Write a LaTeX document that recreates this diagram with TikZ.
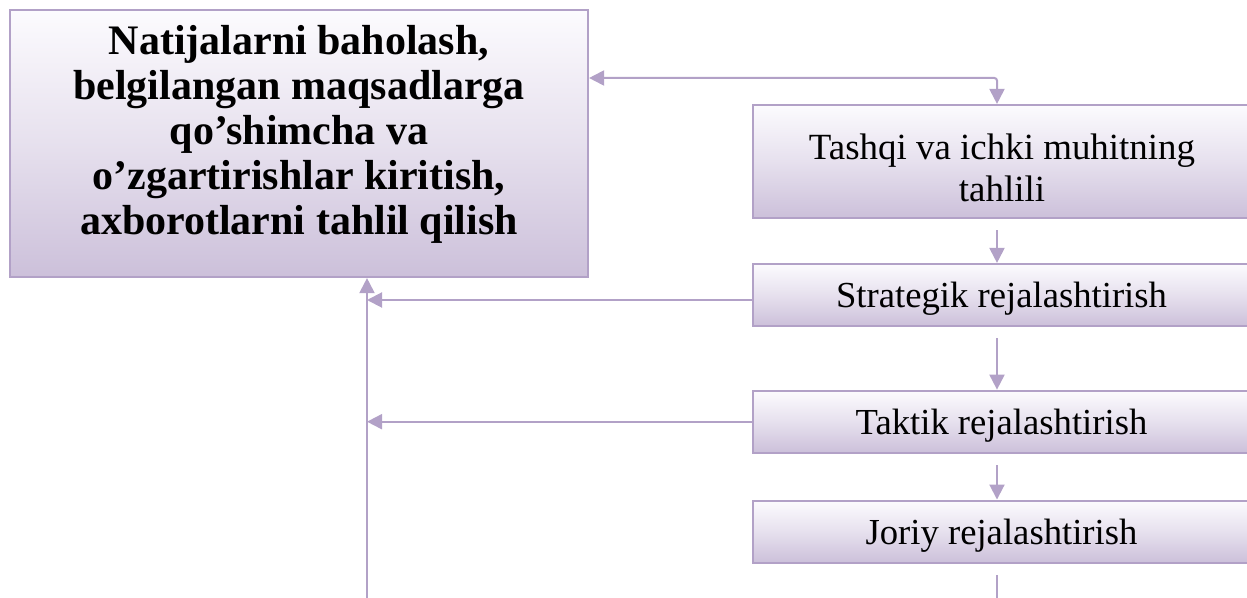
\documentclass[tikz,border=0pt]{standalone}
\usepackage{fontspec}
\setmainfont{Liberation Serif}
\usetikzlibrary{arrows.meta,calc}
\definecolor{lavline}{RGB}{178,161,199}
\definecolor{lavbot}{RGB}{204,192,218}
\definecolor{lavtop}{RGB}{252,251,254}
\tikzset{
  box/.style={rectangle, draw=lavline, line width=1.6pt, top color=lavtop, bottom color=lavbot, middle color=lavtop!55!lavbot, inner sep=0pt, align=center},
  bigbox/.style={box, minimum width=433.5pt, minimum height=200.25pt},
  bigtext/.style={inner sep=0pt, align=center, font=\fontsize{31.5}{33.75}\selectfont\bfseries},
  rbox/.style={box, minimum width=372.75pt, font=\fontsize{27.5}{31.5}\selectfont},
  rline/.style={rbox, minimum height=46.5pt, text height=20pt, text depth=0.5pt},
  rtext/.style={inner sep=0pt, align=center, font=\fontsize{27.7}{31.5}\selectfont},
  conn/.style={draw=lavline, line width=1.5pt},
  tip/.style={-{Triangle[length=11.25pt,width=11.25pt]}},
}
\begin{document}
\begin{tikzpicture}[x=0.75pt,y=-0.75pt]
\useasboundingbox (0,0) rectangle (1247,598);
\clip (0,0) rectangle (1247,598);
\node[bigbox] (big) at (299,143.5) {};
\node[bigtext] (bigt) at (299,134) {Natijalarni baholash,\\belgilangan maqsadlarga\\qo’shimcha va\\o’zgartirishlar kiritish,\\axborotlarni tahlil qilish};
\node[rbox, minimum height=84.75pt] (tash) at (1001.5,161.5) {};
\node[rtext] (tasht) at (1002,168) {Tashqi va ichki muhitning\\tahlili};
\node[rline] (strat) at (1001.5,295) {Strategik rejalashtirish};
\node[rline] (takt) at (1001.5,421.7) {Taktik rejalashtirish};
\node[rline] (jor) at (1001.5,531.6) {Joriy rejalashtirish};
\coordinate (ax) at (997,0);
\coordinate (vx) at (367,0);
\coordinate (corner) at (997,78);
\coordinate (vb) at (367,598);
\coordinate (jb) at (997,598);
% top double connector
\draw[conn, {Triangle[length=11.25pt,width=11.25pt]}-{Triangle[length=11.25pt,width=11.25pt]}, rounded corners=2pt] (big.east |- corner) -- (corner) -- (tash.north -| corner);
% vertical chain
\draw[conn, tip, shorten <=8.5pt] (tash.south -| ax) -- (strat.north -| ax);
\draw[conn, tip, shorten <=8.5pt] (strat.south -| ax) -- (takt.north -| ax);
\draw[conn, tip, shorten <=8.5pt] (takt.south -| ax) -- (jor.north -| ax);
\draw[conn, shorten <=8.5pt] (jor.south -| ax) -- (jb);
% left feedback
\draw[conn, tip] (vb) -- (vb |- big.south);
\draw[conn, tip] ([yshift=-3.75pt]strat.west) -- ([yshift=-3.75pt]strat.west -| vx);
\draw[conn, tip] (takt.west) -- (takt.west -| vx);
\end{tikzpicture}
\end{document}
